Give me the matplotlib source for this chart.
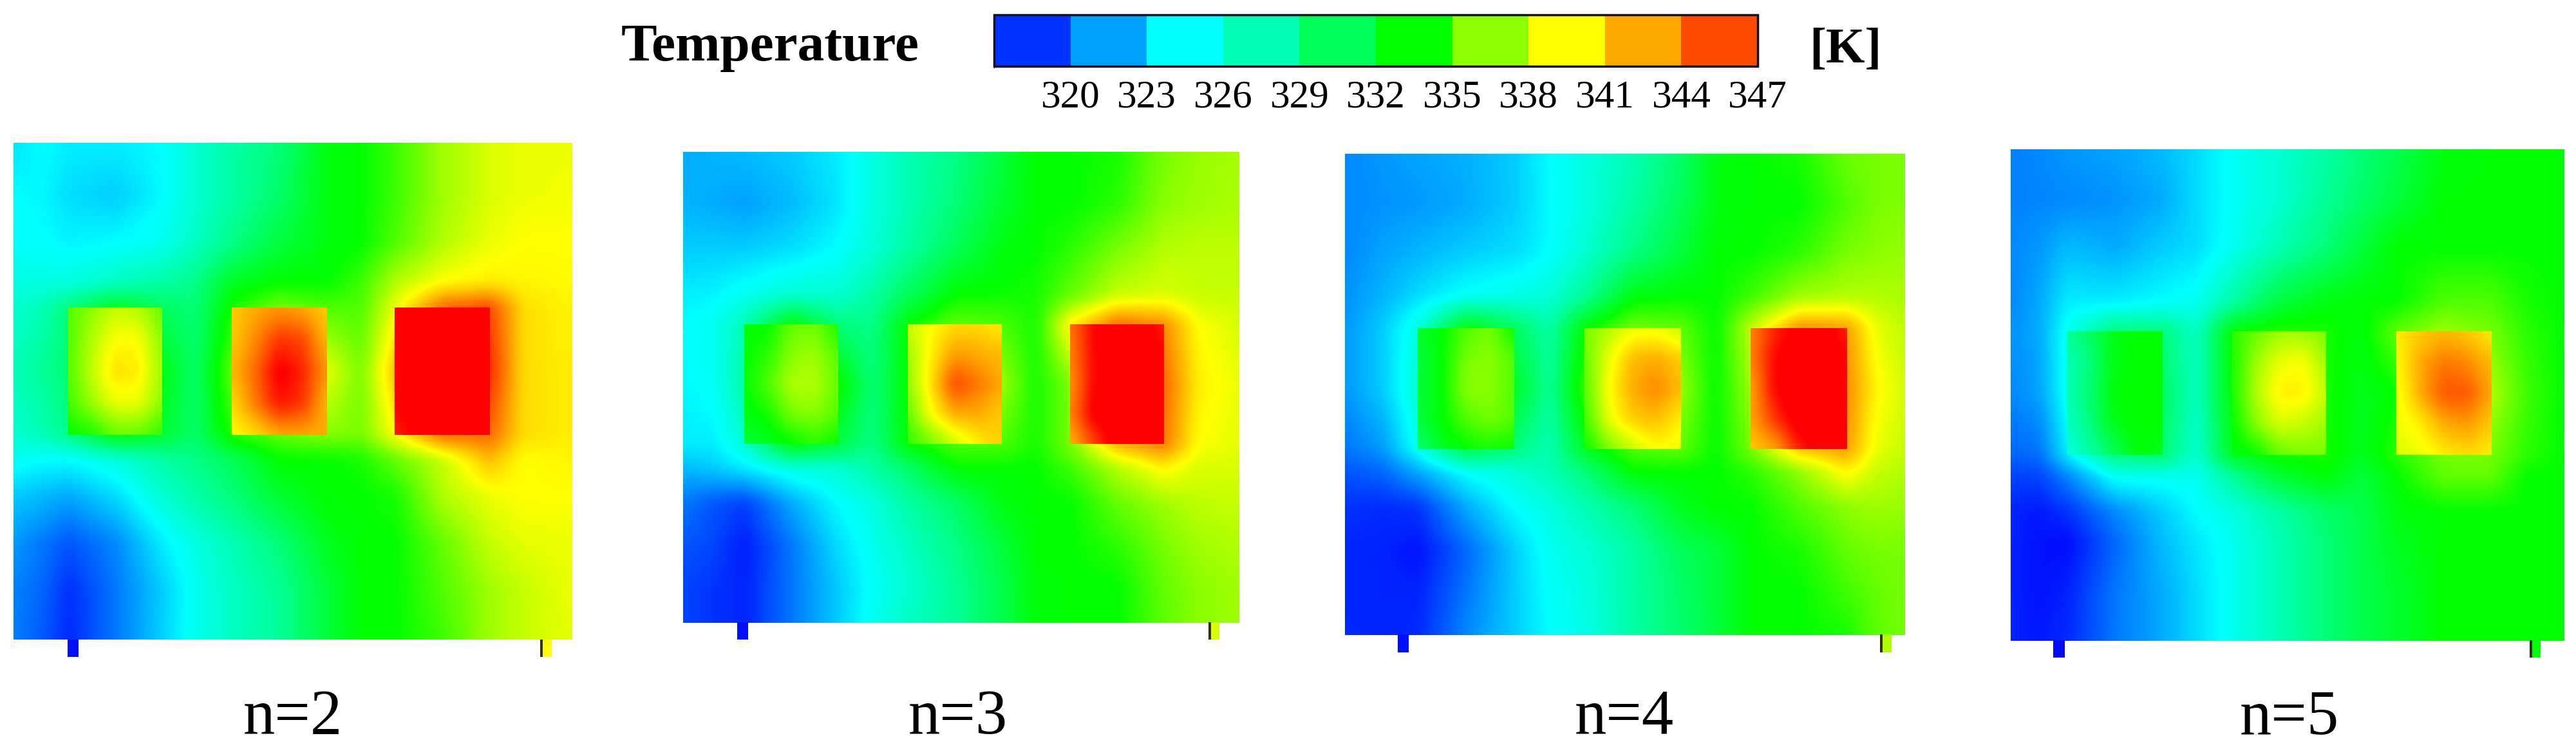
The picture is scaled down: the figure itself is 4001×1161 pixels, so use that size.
#Temperature contours for n=2..5 heat sources
import numpy as np
import matplotlib
matplotlib.use("Agg")
import matplotlib.pyplot as plt
from matplotlib.colors import LinearSegmentedColormap, ListedColormap, BoundaryNorm, Normalize
from matplotlib.cm import ScalarMappable

plt.rcParams["font.family"] = ["Liberation Serif", "DejaVu Serif"]

#legend values
bar_levels = [317, 320, 323, 326, 329, 332, 335, 338, 341, 344, 347]
bar_ticks = [320, 323, 326, 329, 332, 335, 338, 341, 344, 347]
bar_colors = ["#0032ff", "#00a0ff", "#00ffff", "#00ffb4", "#00ff5a",
              "#00ff00", "#8cff00", "#ffff00", "#ffaa00", "#ff4b00"]

panel_names = ["n=2", "n=3", "n=4", "n=5"]

#leg temperatures (left, right)
leg_left = [317.5, 317.5, 317.5, 317.2]
leg_right = [339.5, 338.5, 337.5, 333]

#temperature on the plate, K, rows top to bottom
plate_n2 = [
    [323.7,324.5,324,324,324.5,326,327.5,329,332.5,333,334.5,337,338.5,339,339],
    [324.5,324.3,323.5,323,324.4,326,327.5,329.5,332.5,333,334.5,337,338.5,339,339.2],
    [324.6,324.6,324.2,324.5,325,326.5,328.5,331,332.5,333,335,337.5,339,339.5,339.5],
    [325.5,325.5,325.5,326.5,327.5,328.5,332,333,333,334.5,337.5,339.5,340,339.8,339.6],
    [326,327,329,332,330,329,333.5,336,335,335,339,344,345,340.5,339.8],
    [327,328,329.5,336,332.5,329.5,335.5,340,339,336,341.5,346,346,340.5,340],
    [326,327,328.5,333,331.5,329.5,334,335.5,336.5,336,339.5,344,344,340.5,340],
    [325,324.5,324.5,325.5,327.5,328.5,330,333,333,333.5,335.5,338,341.5,339.5,339.8],
    [323,322.5,322,323.5,326,327.5,329,331.5,333,333,333.5,337.5,339,339.5,339.5],
    [321.5,320.5,319.5,321,324,325.5,327,329,332,333,333,335.5,338,338.8,339],
    [320.8,320,318.3,320.5,323,325,326.5,328,331,333,333,335,337,338,339],
    [320.7,319.6,318.2,320.5,323.2,325,326.5,328,331,333,333,334.5,337,338,338.8],
]
plate_n3 = [
    [322,322.3,322.5,323,324,325.5,327,328.5,331,333,333,333.5,336,336.8,337.2],
    [322.3,322,321.7,322.5,323.8,325.5,327,329,331.5,333,333,334,336.5,337,337.3],
    [323,323,323,323.5,324.5,325.8,327.5,330,332.5,333,334,336,337.5,337.8,337.8],
    [324,324.2,325,326,326,327.5,330,333,333.2,333.5,335.5,338,338.5,338,338],
    [324.5,325,327,333,329,328.5,333,335.5,335,333.5,340,344,343,339.5,338.5],
    [324.3,324.8,327.5,335,333.5,329,333,340,337,333.5,336,346,344,340,339],
    [324,324,326,333,331,328.5,333,335,335,333.5,336,342,343.5,339.5,338.8],
    [322.5,323,324,325.5,326,327.5,329.5,333,333,333,334.5,337.5,339.8,338.5,338.5],
    [320.5,319.5,318.8,322,324.5,325.5,327.5,329.5,332.5,333,333,335.5,337,337.8,338],
    [319.5,319,317.8,320.5,323.5,325,326.5,328.5,331,333,333,334,336,337,337.5],
    [319,318.5,318,320.5,323,324.7,326,328,330.5,332.8,333,333,335.5,336.5,337],
    [319,318.5,318,320.5,323,325,326.5,328,330.5,332.8,333,333,335.3,336.5,337],
]
plate_n4 = [
    [321,321.5,321.8,322.2,323,324.5,325.5,327,329.5,332.5,333,333.5,335.7,336,336],
    [321,321.3,321.5,322,323,324.4,325.5,327.5,330,332.5,333,333,335,336,336.2],
    [321,321.8,322.3,323,323.5,324.5,326,328.5,331,333,333,334,336,336.5,336.8],
    [321.3,322.3,323.5,324.8,325.3,325.8,328,332.5,333,333,334.5,337,337.5,337.5,337.3],
    [321.5,323,325.5,333,330,327.5,333,336,335.5,333,338,343,342.5,339,337.8],
    [321.5,323,326,333,332,328,334.5,339,337,333,337,345,343,339.8,338.4],
    [320.5,321.5,325,331,329,327,332,335,335.5,333,336,341.5,342.5,339,338],
    [319.5,320,322,324.7,325.8,327,329,333,333,333,334,336.5,339.8,338,337.5],
    [318.5,318.2,318.5,322,324.5,325.5,327,329,332,333,333,335,336.5,337,336.8],
    [318,318,317.5,320,323,325,325.8,327.5,330,331,333,333.5,335.5,336,336],
    [318,318,318,320.5,323,324.7,325.5,327.5,329.5,331,333,333,334.5,335.5,336],
    [318.2,318,318.2,321,323,324.5,325.3,327.5,329.3,331,333,333,333.5,335.3,336],
]
plate_n5 = [
    [320.8,321,321.5,321.8,322.5,323.5,324.8,326,327.5,329,330.5,332.5,333,333,333],
    [320.8,320.9,321,321.3,322,323.5,324.7,326,328,329.5,331,333,333,333,333],
    [321,321.5,322.5,322,323,323.5,325,327,329,331,333,333,333,333,333],
    [321,322,324,324,324.5,325,327.5,331,332.5,333,333,335,335,333.5,333],
    [321.3,322,325,329,329,326.5,333,334,333.5,332.5,335.5,337,336,334,333],
    [321,321.8,325,330,330,326.5,333,336,333.5,332.2,333,340,337.5,334.5,333],
    [320,320.3,324,329,329.5,326,332,333.5,333.5,332,334,336,336,334,333],
    [319,319,321,325,325,325,328,331.5,333,331,333,335.5,335.5,333,333],
    [318,317.7,318.5,321,323,324.5,325.5,327.5,329.5,330.5,332.5,333,333,333,333],
    [318,317.5,317.3,320,322.5,323.8,325,327,329,330.5,332,333,333,333,333],
    [318,317.5,318,320.5,322,323.5,325,327,329,330.5,331.5,333,333,333,333],
    [318,317.7,318.2,320.5,322,323.5,325,327,329,330.5,331.5,333,333,333,333],
]

#temperature on the three sources, 5x5, rows top to bottom
source_n2 = [
    [[335,336.5,338,337.5,335.5],[335,337.5,339.5,339.5,336.5],[335,338,340.5,340,337],[334.5,337,339,339,336.5],[333,333.5,335.5,335.5,334]],
    [[341,342,342.5,342,341],[341,343,345.5,345,341.5],[341.5,344,347.5,346,342.5],[340.5,343.5,346.5,345.5,341.5],[339.5,340.5,342,342,342]],
    [[347,348,348,348,347.5],[347,348,348,348,348],[347,348,348,348,348],[347,348,348,348,348],[346,347.5,348,348,348]],
]
source_n3 = [
    [[333,333,335.5,335.8,333.5],[333,334,336.5,337,335],[333,335,337.5,337.5,335.5],[332.5,333.5,336,336.5,335],[331,332,333,334,333]],
    [[338,339.5,340.5,340.5,340],[337,340,342.5,342,341.5],[336.5,340.5,345,343.5,342],[335.5,339.5,342,342,341],[334,336,338,340,341]],
    [[343.5,347,348,348,346],[343,347,348,348,347],[342.5,347,348,348,347.5],[343,347.5,348,348,347.5],[341.5,345,348,348,347]],
]
source_n4 = [
    [[331.5,333,335,336,333],[331,333,336,336.5,335],[331,333,336.5,336.5,335],[331,333,335,336,335],[329,332,333,333.5,333]],
    [[336,337.5,339,339,338],[335.5,339,341.5,342,341],[335,339.5,342,343,341.5],[334.5,339,341,341.5,340],[333,336,338,339.5,339]],
    [[343,346,347.5,348,346],[343,347,348,348,347],[342,347,348,348,347.5],[342,345.5,348,348,347],[341,342,346,348,347]],
]
source_n5 = [
    [[328,330,332.5,333,333],[327,329,332.5,333,333],[327,329.5,333,333,333],[326.5,329,332.5,333,333],[325.5,327.5,330,333,332]],
    [[334,335.5,337,337,336],[333.5,337,339,339.5,337],[333.5,337.5,340,340,338],[333,336.5,338.5,338,337],[332.5,333,335.5,336,336]],
    [[340,341,341.5,341,340],[339.5,342,343.5,343,341.5],[339,342,344.5,344.5,342],[339,340,342,342.5,341],[338.5,339,340,340.5,340]],
]

plates = [plate_n2, plate_n3, plate_n4, plate_n5]
sources = [source_n2, source_n3, source_n4, source_n5]

#layout, measured on crops of the picture
crop_x = [0, 1030, 2050, 3080]
scale_x = [1.65, 1.65, 1.65, 1.7025]
scale_y = 1.632
grid_cols = [
    [36,110,177,296,415,500,595,715,835,925,1013,1133,1253,1340,1466],
    [53,130,210,330,449,535,628,748,867,955,1044,1164,1283,1370,1474],
    [66,160,252,375,497,590,680,802,923,1015,1106,1228,1350,1425,1497],
    [75,150,224,348,472,566,660,783,906,1000,1094,1218,1342,1440,1535],
]
grid_rows = [
    [38,170,290,390,455,615,775,840,930,1050,1170,1295],
    [60,190,300,420,498,648,798,860,950,1060,1160,1252],
    [65,190,310,425,507,660,811,870,960,1070,1180,1283],
    [54,180,300,440,516,670,826,880,970,1050,1180,1297],
]
leg_cols = [[173,201,1385,1414], [190,217,1397,1425], [200,228,1436,1465], [186,216,1445,1474]]
leg_bottom = [1340, 1295, 1328, 1342]
label_x = [455, 1488, 2523, 3556]

#fluent style rainbow
temp_min, temp_max = 317, 347
stops = [(0, "#0000ff"), (7.5/30, "#00ffff"), (16/30, "#00ff00"), (22.5/30, "#ffff00"), (1, "#ff0000")]
rainbow = LinearSegmentedColormap.from_list("fluent", stops, N=512)
norm = Normalize(temp_min, temp_max, clip=True)


def blur(a, win):
    #box blur along the first axis, edges padded
    pad = win // 2
    a = np.pad(a, ((pad, pad), (0, 0)), mode="edge")
    kernel = np.ones(win) / win
    return np.apply_along_axis(lambda c: np.convolve(c, kernel, mode="valid"), 0, a)


def draw_field(ax, xs, ys, values, win, zorder):
    #draws the read values on a finer mesh so the grid does not show as facets
    fx = np.arange(xs[0], xs[-1] + 1, 2.0)
    fy = np.arange(ys[0], ys[-1] + 1, 2.0)
    z = np.array(values, dtype=float)
    z = np.array([np.interp(fx, xs, row) for row in z])
    z = np.array([np.interp(fy, ys, col) for col in z.T]).T
    for _ in range(2):
        z = blur(z, win)
        z = blur(z.T, win).T
    ax.pcolormesh(fx, fy, z, cmap=rainbow, norm=norm, shading="nearest", antialiased=False, zorder=zorder)


fig = plt.figure(figsize=(40.01, 11.61), dpi=100)
ax = fig.add_axes([0, 0, 1, 1])

for i in range(4):
    xs = np.array(grid_cols[i]) / scale_x[i] + crop_x[i]
    ys = np.array(grid_rows[i]) / scale_y + 200
    draw_field(ax, xs, ys, plates[i], 9, 1)
    #three sources sit on top with their own field
    for k in range(3):
        sx = np.linspace(xs[2 + 4*k], xs[4 + 4*k], 5)
        sy = np.linspace(ys[4], ys[6], 5)
        draw_field(ax, sx, sy, sources[i][k], 9, 2)
    #legs under the plate
    lx = np.array(leg_cols[i]) / scale_x[i] + crop_x[i]
    bottom = leg_bottom[i] / scale_y + 200
    ax.bar((lx[0]+lx[1])/2, bottom-ys[-1], width=lx[1]-lx[0], bottom=ys[-1],
           color=rainbow(norm(leg_left[i])), zorder=1)
    ax.bar((lx[2]+lx[3])/2, bottom-ys[-1], width=lx[3]-lx[2], bottom=ys[-1],
           color=rainbow(norm(leg_right[i])), zorder=1)
    ax.bar(lx[2]+2, bottom-ys[-1], width=4, bottom=ys[-1], color="#303000", zorder=1)
    ax.text(label_x[i], 1140, panel_names[i], fontsize=71, ha="center", va="baseline", color="black")

ax.set_xlim(0, 4001)
ax.set_ylim(1161, 0)
ax.axis("off")

ax.text(1196, 74, "Temperature", fontsize=60, fontweight="bold", ha="center", va="center")
ax.text(2866, 79, "[K]", fontsize=56, fontweight="bold", ha="center", va="center")

#legend bar
cax = fig.add_axes([1544/4001, 1-103/1161, 1186/4001, 80/1161])
bar_norm = BoundaryNorm(bar_levels, len(bar_colors))
cbar = fig.colorbar(ScalarMappable(norm=bar_norm, cmap=ListedColormap(bar_colors)), cax=cax,
                    orientation="horizontal", ticks=bar_ticks, spacing="proportional")
cbar.ax.tick_params(length=0, labelsize=44, pad=15)
cbar.outline.set_linewidth(2.5)
cbar.outline.set_edgecolor("#101020")

plt.savefig("out.png", dpi=100)
